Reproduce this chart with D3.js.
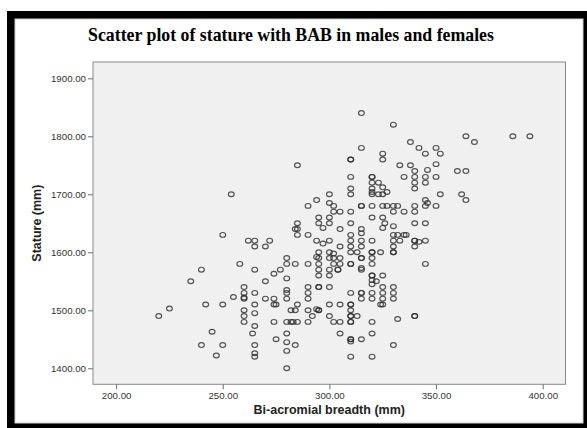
<!DOCTYPE html>
<html>
<head>
<meta charset="utf-8">
<script src="https://cdnjs.cloudflare.com/ajax/libs/d3/7.8.5/d3.min.js"></script>
<style>
  html, body { margin: 0; padding: 0; background: #fff; }
  svg { display: block; }
</style>
</head>
<body>
<script>
// chart values
var chartTitle = 'Scatter plot of stature with BAB in males and females';
var xTitle = 'Bi-acromial breadth (mm)';
var yTitle = 'Stature (mm)';
var xTicks = [200, 250, 300, 350, 400];
var yTicks = [1400, 1500, 1600, 1700, 1800, 1900];

// bi-acromial breadth (mm)
var babValues = [
  285, 254, 285, 284, 285, 315, 330, 364, 368, 338, 315, 342, 350, 325, 345, 352,
  310, 310, 325, 350, 333, 338, 340, 346, 360, 364, 310, 320, 320, 335, 340, 345,
  350, 320, 323, 340, 345, 310, 320, 325, 340, 320, 327, 310, 320, 323, 325, 352,
  362, 364, 300, 294, 290, 300, 302, 302, 305, 310, 315, 315, 320, 325, 327, 330,
  332, 330, 335, 340, 340, 345, 345, 346, 350, 295, 300, 295, 300, 297, 305, 310,
  315, 320, 325, 326, 325, 330, 340, 345,
  250, 262, 265, 265, 270, 272, 280, 280, 284, 285, 258, 265, 240, 235, 274, 277,
  270, 280, 260, 260, 260, 260, 265, 255, 270, 274, 280, 280, 280, 274, 275, 265,
  285, 242, 250, 225, 220, 260, 260, 260, 265, 265, 274, 280, 282, 282, 284, 283,
  285, 245, 264, 275, 280, 280, 284, 240, 250, 265, 247, 265, 265, 280, 280,
  290, 310, 315, 330, 332, 335, 336, 294, 297, 300, 305, 310, 310, 315, 315, 320,
  330, 330, 333, 340, 340, 342, 345, 340, 295, 300, 302, 310, 313, 320, 320, 324,
  330, 330, 294, 295, 300, 302, 305, 315, 315, 320, 290, 295, 302, 305, 310, 310,
  320, 345, 295, 300, 304, 304, 315, 315, 295, 300, 320, 320, 325, 320, 322, 320,
  325, 290, 295, 295, 300, 330, 290, 310, 315, 315, 320, 325, 330, 290, 315, 320,
  325, 330, 300, 305, 310, 310, 324, 325, 290, 294, 295, 295, 310, 292, 300, 310,
  310, 313, 340, 340, 290, 302, 305, 310, 310, 320, 332, 305, 320, 310, 310, 310,
  315, 330, 310, 320,
  386, 394
];

// stature (mm)
var statureValues = [
  1750, 1700, 1650, 1640, 1640, 1840, 1820, 1800, 1790, 1790, 1780, 1780, 1780, 1770, 1770, 1770,
  1760, 1760, 1760, 1752, 1750, 1750, 1740, 1742, 1740, 1740, 1730, 1730, 1730, 1730, 1730, 1730,
  1730, 1720, 1720, 1720, 1720, 1710, 1710, 1712, 1710, 1704, 1704, 1700, 1700, 1700, 1700, 1700,
  1700, 1690, 1700, 1690, 1680, 1685, 1680, 1670, 1670, 1670, 1680, 1680, 1680, 1680, 1680, 1680,
  1680, 1670, 1670, 1680, 1670, 1690, 1680, 1685, 1680, 1660, 1660, 1650, 1650, 1642, 1640, 1650,
  1640, 1660, 1660, 1650, 1642, 1645, 1650, 1650,
  1630, 1620, 1620, 1610, 1610, 1620, 1590, 1580, 1580, 1630, 1580, 1570, 1570, 1550, 1563, 1570,
  1550, 1555, 1540, 1530, 1520, 1522, 1530, 1523, 1520, 1520, 1535, 1530, 1520, 1510, 1510, 1510,
  1510, 1510, 1510, 1503, 1490, 1500, 1490, 1480, 1495, 1473, 1480, 1480, 1500, 1480, 1500, 1480,
  1480, 1463, 1460, 1450, 1460, 1445, 1440, 1440, 1440, 1440, 1422, 1426, 1420, 1430, 1400,
  1630, 1630, 1633, 1630, 1630, 1630, 1630, 1620, 1615, 1620, 1610, 1620, 1610, 1620, 1610, 1620,
  1620, 1610, 1620, 1620, 1620, 1618, 1620, 1610, 1600, 1600, 1598, 1600, 1600, 1600, 1600, 1600,
  1600, 1600, 1592, 1590, 1590, 1590, 1590, 1590, 1590, 1590, 1580, 1580, 1580, 1580, 1580, 1580,
  1580, 1580, 1570, 1570, 1570, 1570, 1573, 1570, 1560, 1560, 1560, 1560, 1560, 1552, 1550, 1545,
  1540, 1540, 1540, 1540, 1540, 1540, 1530, 1530, 1530, 1530, 1530, 1530, 1530, 1520, 1520, 1520,
  1520, 1520, 1510, 1510, 1510, 1510, 1510, 1510, 1500, 1502, 1500, 1500, 1500, 1490, 1490, 1490,
  1490, 1490, 1490, 1490, 1480, 1480, 1480, 1480, 1480, 1480, 1485, 1460, 1460, 1450, 1450, 1446,
  1450, 1440, 1420, 1420,
  1800, 1800
];

var W = 587, H = 428;
var plot = { left: 93, top: 62, right: 565.5, bottom: 384.3 };

var svg = d3.select('body').append('svg')
  .attr('width', W)
  .attr('height', H);

// black frame round the whole figure
svg.append('rect')
  .attr('x', 7).attr('y', 11)
  .attr('width', W - 7).attr('height', H - 11)
  .attr('fill', '#000');
svg.append('rect')
  .attr('x', 15).attr('y', 19)
  .attr('width', 568).attr('height', 404)
  .attr('fill', '#fff')
  .attr('stroke', '#cfcfcf')
  .attr('stroke-width', 1);

svg.append('text')
  .attr('x', 291).attr('y', 40.5)
  .attr('text-anchor', 'middle')
  .attr('font-family', '"Liberation Serif", "Times New Roman", serif')
  .attr('font-weight', 'bold')
  .attr('font-size', 17.8)
  .attr('fill', '#000')
  .text(chartTitle);

var x = d3.scaleLinear().domain([189.17, 410.69]).range([plot.left, plot.right]);
var y = d3.scaleLinear().domain([1372.4, 1928.1]).range([plot.bottom, plot.top]);

svg.append('rect')
  .attr('x', plot.left).attr('y', plot.top)
  .attr('width', plot.right - plot.left)
  .attr('height', plot.bottom - plot.top)
  .attr('fill', '#f0f0f0')
  .attr('stroke', '#8a8a8a')
  .attr('stroke-width', 1);

var fmt = d3.format('.2f');

var xAxis = svg.append('g')
  .attr('transform', 'translate(0,' + plot.bottom + ')')
  .call(d3.axisBottom(x).tickValues(xTicks).tickFormat(fmt).tickSizeOuter(0).tickSize(5).tickPadding(3));

var yAxis = svg.append('g')
  .attr('transform', 'translate(' + plot.left + ',0)')
  .call(d3.axisLeft(y).tickValues(yTicks).tickFormat(fmt).tickSizeOuter(0).tickSize(5).tickPadding(2));

[xAxis, yAxis].forEach(function (g) {
  g.select('.domain').remove();
  g.selectAll('line').attr('stroke', '#6e6e6e');
  g.selectAll('text')
    .attr('font-family', '"Liberation Sans", Arial, sans-serif')
    .attr('font-size', 9.7)
    .attr('fill', '#333');
});

svg.append('text')
  .attr('x', (plot.left + plot.right) / 2).attr('y', 414)
  .attr('text-anchor', 'middle')
  .attr('font-family', '"Liberation Sans", Arial, sans-serif')
  .attr('font-weight', 'bold')
  .attr('font-size', 12.5)
  .attr('fill', '#222')
  .text(xTitle);

svg.append('text')
  .attr('transform', 'translate(41,' + (plot.top + plot.bottom) / 2 + ') rotate(-90)')
  .attr('text-anchor', 'middle')
  .attr('font-family', '"Liberation Sans", Arial, sans-serif')
  .attr('font-weight', 'bold')
  .attr('font-size', 12.5)
  .attr('fill', '#222')
  .text(yTitle);

// the points, hollow rings
var points = babValues.map(function (b, i) { return { bab: b, stature: statureValues[i] }; });

svg.append('g').selectAll('ellipse')
  .data(points)
  .enter().append('ellipse')
  .attr('cx', function (d) { return x(d.bab); })
  .attr('cy', function (d) { return y(d.stature); })
  .attr('rx', 2.9)
  .attr('ry', 2.4)
  .attr('fill', 'none')
  .attr('stroke', '#2a2a2a')
  .attr('stroke-opacity', 0.8)
  .attr('stroke-width', 1.15);
</script>
</body>
</html>
